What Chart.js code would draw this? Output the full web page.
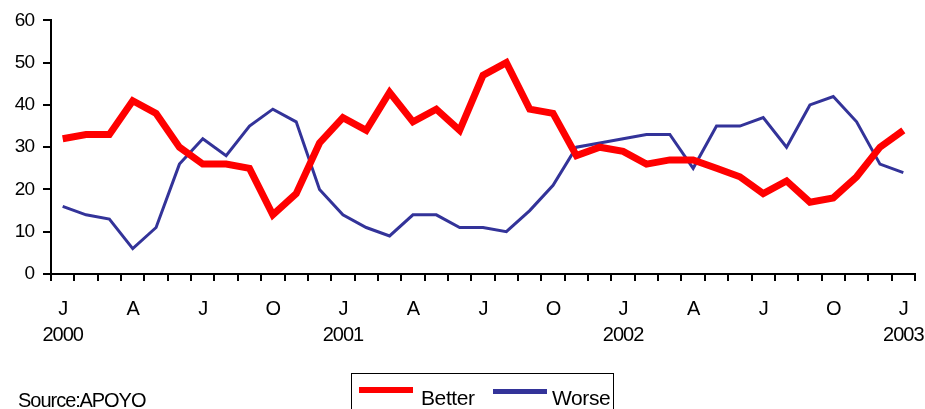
<!DOCTYPE html>
<html>
<head>
<meta charset="utf-8">
<script src="https://cdn.jsdelivr.net/npm/chart.js@4/dist/chart.umd.min.js"></script>
<style>
  html, body { margin: 0; padding: 0; background: #fff; }
  #wrap { position: relative; width: 925px; height: 409px; overflow: hidden; font-family: "Liberation Sans", Arial, sans-serif; }
  #chart { position: absolute; left: 0; top: 0; }
  #source { position: absolute; left: 18px; top: 389px; font-size: 20px; line-height: 23px; letter-spacing: -1px; word-spacing: -4px; color: #000; }
  #legend { position: absolute; left: 351px; top: 373px; width: 263px; height: 60px; border: 1.5px solid #000; box-sizing: border-box; }
  .item { position: absolute; top: 6px; font-size: 21px; line-height: 24px; letter-spacing: -0.4px; color: #000; white-space: nowrap; }
  .item span.swatch { position: absolute; left: 0; width: 54px; }
  .item span.text { position: absolute; top: 6px; }
</style>
</head>
<body>
<div id="wrap">
  <canvas id="chart" width="925" height="409"></canvas>
  <div id="source">Source: APOYO</div>
  <div id="legend"></div>
</div>
<script>
// Meses (inicial) y años del eje X
const months = ['J', 'F', 'M', 'A', 'M', 'J', 'J', 'A', 'S', 'O', 'N', 'D'];
const years = ['2000', '2001', '2002', '2003'];

// Porcentajes mensuales, enero 2000 a enero 2003
const better = [32, 33, 33, 41, 38, 30, 26, 26, 25, 14, 19, 31,
                37, 34, 43, 36, 39, 34, 47, 50, 39, 38, 28, 30,
                29, 26, 27, 27, 25, 23, 19, 22, 17, 18, 23, 30,
                34];
const worse = [16, 14, 13, 6, 11, 26, 32, 28, 35, 39, 36, 20,
               14, 11, 9, 14, 14, 11, 11, 10, 15, 21, 30, 31,
               32, 33, 33, 25, 35, 35, 37, 30, 40, 42, 36, 26,
               24];

const yTicks = [0, 10, 20, 30, 40, 50, 60];

// Construye las categorías mes/año
const labels = [];
for (let i = 0; i < better.length; i++) {
    labels.push(months[i % 12] + ' ' + years[Math.floor(i / 12)]);
}

// Letra condensada como en el gráfico original
const tightText = {
    id: 'tightText',
    beforeLayout(chart) { chart.ctx.letterSpacing = '-1px'; },
    beforeDraw(chart) { chart.ctx.letterSpacing = '-1px'; }
};

const fontFamily = '"Liberation Sans", Arial, sans-serif';

const chart = new Chart(document.getElementById('chart'), {
    type: 'line',
    data: {
        labels: labels,
        datasets: [
            {
                label: 'Better',
                data: better,
                borderColor: '#ff0000',
                borderWidth: 7,
                pointRadius: 0,
                tension: 0,
                borderCapStyle: 'butt'
            },
            {
                label: 'Worse',
                data: worse,
                borderColor: '#333399',
                borderWidth: 3,
                pointRadius: 0,
                tension: 0
            }
        ]
    },
    options: {
        responsive: false,
        animation: false,
        events: [],
        layout: { padding: { left: 0, top: 20, right: 10, bottom: 0 } },
        plugins: {
            legend: { display: false },
            tooltip: { enabled: false }
        },
        scales: {
            x: {
                type: 'category',
                offset: true,
                afterFit: (scale) => {
                    // el rótulo "2003" puede salirse del área, no reservar espacio
                    scale.height = 135;
                    scale.paddingLeft = 0;
                    scale.paddingRight = 0;
                },
                grid: { offset: true, drawOnChartArea: false, drawTicks: true, tickLength: 7, color: '#000', lineWidth: 2 },
                border: { color: '#000', width: 2 },
                ticks: {
                    autoSkip: false,
                    maxRotation: 0,
                    padding: 15,
                    color: '#000',
                    font: { family: fontFamily, size: 20, lineHeight: 1.33 },
                    callback: function (value, index) {
                        if (index % 3 !== 0) return '';
                        const month = months[index % 12];
                        const year = index % 12 === 0 ? years[index / 12] : '';
                        return [month, year];
                    }
                }
            },
            y: {
                min: 0,
                max: 60,
                afterFit: (scale) => { scale.width = 51; },
                afterBuildTicks: (scale) => { scale.ticks = yTicks.map(v => ({ value: v })); },
                grid: { drawOnChartArea: false, drawTicks: true, tickLength: 8, color: '#000', lineWidth: 2 },
                border: { color: '#000', width: 2 },
                ticks: {
                    padding: 9,
                    color: '#000',
                    font: { family: fontFamily, size: 19 }
                }
            }
        }
    },
    plugins: [tightText]
});

// Leyenda con recuadro, generada desde los datasets
function buildLegend() {
    const legend = document.getElementById('legend');
    const lefts = [7, 141];
    const textLefts = [62, 59];
    chart.data.datasets.forEach((ds, i) => {
        const item = document.createElement('div');
        item.className = 'item';
        item.style.left = lefts[i] + 'px';
        const swatch = document.createElement('span');
        swatch.className = 'swatch';
        swatch.style.top = (i === 0 ? 7 : 9) + 'px';
        swatch.style.height = (i === 0 ? 6 : 5) + 'px';
        swatch.style.background = ds.borderColor;
        const text = document.createElement('span');
        text.className = 'text';
        text.style.left = textLefts[i] + 'px';
        text.textContent = ds.label;
        item.appendChild(swatch);
        item.appendChild(text);
        legend.appendChild(item);
    });
}

buildLegend();
</script>
</body>
</html>
